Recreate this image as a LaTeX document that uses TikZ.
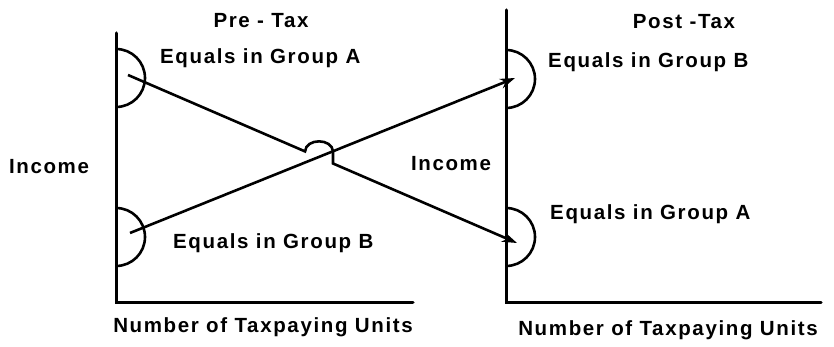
\documentclass[tikz,border=0pt]{standalone}
\usepackage{fontspec}
\newfontfamily\lettering{Liberation Sans}[LetterSpace=8]
\usetikzlibrary{arrows.meta}

\begin{document}
\begin{tikzpicture}[x=1pt, y=1pt, >={Stealth[length=15pt, width=10pt]},
  axis/.style={line width=3pt, line cap=round},
  arrowline/.style={line width=2.6pt, ->},
  group/.style={line width=2.6pt},
  label/.style={font=\lettering\bfseries\fontsize{20.5}{24}\selectfont, inner sep=0pt}
]
  \useasboundingbox (0,0) rectangle (834,347);

  % ======= Left: Pre-Tax =======
  \coordinate (lo)   at (116,44);
  \coordinate (ltop) at (116,314);
  \coordinate (lend) at (413,44);
  \draw[axis] (ltop) -- (lo) -- (lend);

  \node[label] (pre)     at (261,326) {Pre - Tax};
  \node[label] (incL)    at (49,180)  {Income};
  \node[label, anchor=west] (grpAL) at (160,289) {Equals in Group A};
  \node[label, anchor=west] (grpBL) at (173,104) {Equals in Group B};
  \node[label] (unitsL)  at (263,20)  {Number of Taxpaying Units};

  % Gruppen als Halbkreise an der Achse
  \coordinate (cAL) at (116,269);
  \coordinate (cBL) at (116,110);
  \draw[group] (cAL) ++(0,29pt) arc[start angle=90, end angle=-90, radius=29pt];
  \draw[group] (cBL) ++(0,29pt) arc[start angle=90, end angle=-90, radius=29pt];

  % ======= Right: Post-Tax =======
  \coordinate (ro)   at (506,44);
  \coordinate (rtop) at (506,337);
  \coordinate (rend) at (821,44);
  \draw[axis] (rtop) -- (ro) -- (rend);

  \node[label] (post)    at (684,325) {Post -Tax};
  \node[label] (incR)    at (451,183) {Income};
  \node[label, anchor=west] (grpBR) at (548,285) {Equals in Group B};
  \node[label, anchor=west] (grpAR) at (550,133) {Equals in Group A};
  \node[label] (unitsR)  at (668,17)  {Number of Taxpaying Units};

  \coordinate (cBR) at (506,268);
  \coordinate (cAR) at (506,110);
  \draw[group] (cBR) ++(0,29pt) arc[start angle=90, end angle=-90, radius=29pt];
  \draw[group] (cAR) ++(0,29pt) arc[start angle=90, end angle=-90, radius=29pt];

  % ======= Arrows =======
  \coordinate (a0) at (128,272);
  \coordinate (a1) at (517,104);
  \coordinate (b0) at (130,114);
  \coordinate (b1) at (515,269);
  % Bogen ueber die andere Linie
  \coordinate (hopL) at (305,195.6);
  \coordinate (hopR) at (333,195.6);
  \coordinate (hopD) at (333,183.5);
  \coordinate (hc1)  at (306,209);
  \coordinate (hc2)  at (332,209);

  \draw[arrowline] (b0) -- (b1);
  \draw[arrowline] (a0) -- (hopL) .. controls (hc1) and (hc2) .. (hopR) -- (hopD) -- (a1);

\end{tikzpicture}
\end{document}
